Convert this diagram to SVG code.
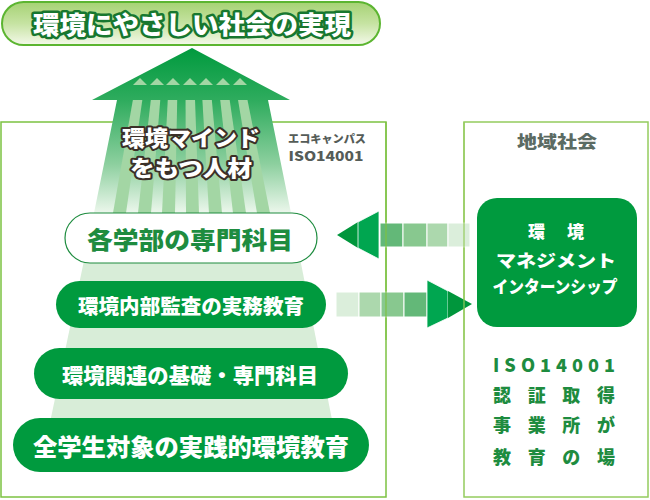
<svg xmlns="http://www.w3.org/2000/svg" width="650" height="500" viewBox="0 0 650 500">
<defs>
<style>
text{font-family:"Noto Sans CJK JP","Noto Sans",sans-serif;font-weight:900;}
.c{text-anchor:middle;dominant-baseline:central;}
.w{fill:#ffffff;}
.g{fill:#1e8c3f;}
.pill{fill:#009a3e;}
.sq{stroke:#ffffff;stroke-width:1;}
</style>
<linearGradient id="banner" x1="0" y1="0" x2="0" y2="1">
<stop offset="0" stop-color="#a6d274"/>
<stop offset="0.5" stop-color="#c6e3a2"/>
<stop offset="1" stop-color="#f4f9ea"/>
</linearGradient>
<linearGradient id="arrow" gradientUnits="userSpaceOnUse" x1="0" y1="48" x2="0" y2="213">
<stop offset="0" stop-color="#009a3e"/>
<stop offset="0.32" stop-color="#2fac5e"/>
<stop offset="0.7" stop-color="#8ccf9e"/>
<stop offset="1" stop-color="#ecf7ec"/>
</linearGradient>
<clipPath id="shaft">
<polygon points="117,100 268,100 291,213 94,213"/>
</clipPath>
</defs>

<g id="frames">
<rect x="1" y="122" width="385" height="375" fill="#ffffff" stroke="#7cc242" stroke-width="1.5"/>
<rect x="464" y="122" width="184" height="375" fill="#ffffff" stroke="#94cc5e" stroke-width="1.5"/>
</g>

<g id="title">
<rect x="2" y="2" width="378" height="43" rx="21.5" fill="url(#banner)" stroke="#5cb531" stroke-width="2"/>
<text class="c" x="192" y="23" font-size="25" textLength="318" lengthAdjust="spacingAndGlyphs" fill="#ffffff" stroke="#17772f" stroke-width="5" stroke-linejoin="round" paint-order="stroke">環境にやさしい社会の実現</text>
</g>

<g id="big-arrow">
<polygon points="192,48 290,100 268,100 291,213 94,213 117,100 92,100" fill="url(#arrow)"/>
<polygon points="94,213 291,213 342,470 40,470" fill="#d8edd8"/>
<g clip-path="url(#shaft)" fill="#a3d6a4">
<polygon points="135.5,85 144.5,85 126,213 113,213"/>
<polygon points="152.5,85 161.5,85 151,213 138,213"/>
<polygon points="168.5,85 177.5,85 175,213 162,213"/>
<polygon points="185.5,85 194.5,85 199,213 186,213"/>
<polygon points="201.5,85 210.5,85 222,213 209,213"/>
<polygon points="218.5,85 227.5,85 246,213 233,213"/>
<polygon points="235.5,85 244.5,85 270,213 257,213"/>
</g>
<g fill="#a3d6a4">
<polygon points="140,78 147,85 133,85"/>
<polygon points="157,78 164,85 150,85"/>
<polygon points="173,78 180,85 166,85"/>
<polygon points="190,78 197,85 183,85"/>
<polygon points="206,78 213,85 199,85"/>
<polygon points="223,78 230,85 216,85"/>
<polygon points="240,78 247,85 233,85"/>
</g>
<text class="c" x="191" y="136" font-size="22" textLength="138" lengthAdjust="spacingAndGlyphs" fill="#ffffff" stroke="#3b3028" stroke-width="4" stroke-linejoin="round" paint-order="stroke">環境マインド</text>
<text class="c" x="191" y="166" font-size="22" textLength="122" lengthAdjust="spacingAndGlyphs" fill="#ffffff" stroke="#3b3028" stroke-width="4" stroke-linejoin="round" paint-order="stroke">をもつ人材</text>
</g>

<g id="labels">
<text class="c" x="327" y="138" font-size="11" textLength="78" lengthAdjust="spacingAndGlyphs" fill="#555c58">エコキャンパス</text>
<text class="c" x="326" y="155" font-size="13" textLength="75" lengthAdjust="spacingAndGlyphs" fill="#555c58">ISO14001</text>
<text class="c" x="557" y="140" font-size="17" textLength="80" lengthAdjust="spacingAndGlyphs" fill="#5b6b63">地域社会</text>
</g>

<g id="item1">
<rect x="65" y="213" width="252" height="50" rx="25" fill="#ffffff" stroke="#1e8c3f" stroke-width="1.2"/>
<text class="c g" x="190" y="238" font-size="24" textLength="206" lengthAdjust="spacingAndGlyphs">各学部の専門科目</text>
</g>
<g id="item2">
<rect class="pill" x="56" y="281" width="270" height="47" rx="23.5"/>
<text class="c w" x="191" y="305" font-size="20" textLength="226" lengthAdjust="spacingAndGlyphs">環境内部監査の実務教育</text>
</g>
<g id="item3">
<rect class="pill" x="34" y="348" width="314" height="51" rx="25.5"/>
<text class="c w" x="190" y="374" font-size="21" textLength="256" lengthAdjust="spacingAndGlyphs">環境関連の基礎・専門科目</text>
</g>
<g id="item4">
<rect class="pill" x="13" y="418" width="356" height="54" rx="27"/>
<text class="c w" x="191" y="445" font-size="24" textLength="316" lengthAdjust="spacingAndGlyphs">全学生対象の実践的環境教育</text>
</g>

<g id="connectors">
<g id="arrow-left">
<rect class="sq" x="380" y="223" width="23" height="24" fill="#63b878"/>
<rect class="sq" x="403" y="223" width="24" height="24" fill="#88c88f"/>
<rect class="sq" x="427" y="223" width="21" height="24" fill="#acd8ad"/>
<rect x="448" y="223" width="22" height="24" fill="#dbeedb" stroke="#ffffff" stroke-width="1"/>
<polygon points="337,235 358,222 358,248" fill="#00963c"/>
<polygon points="358,222 379,211 379,259 358,248" fill="#00a650" stroke="#ffffff" stroke-width="0.8"/>
</g>
<g id="arrow-right">
<rect x="336" y="292" width="23" height="25" fill="#dbeedb" stroke="#ffffff" stroke-width="1"/>
<rect class="sq" x="359" y="292" width="22" height="25" fill="#acd8ad"/>
<rect class="sq" x="381" y="292" width="23" height="25" fill="#88c88f"/>
<rect class="sq" x="404" y="292" width="23" height="25" fill="#63b878"/>
<polygon points="427,280 448,291 448,318 427,328" fill="#00a650" stroke="#ffffff" stroke-width="0.8"/>
<polygon points="448,291 472,304 448,318" fill="#00963c"/>
</g>
<line x1="386" y1="122" x2="386" y2="340" stroke="#7cc242" stroke-width="1.2"/>
<line x1="464" y1="122" x2="464" y2="340" stroke="#94cc5e" stroke-width="1.2"/>
</g>

<g id="internship">
<rect x="477" y="198" width="160" height="129" rx="20" fill="#009a3e"/>
<text class="c w" x="556" y="230" font-size="17" textLength="56" lengthAdjust="spacing">環境</text>
<text class="c w" x="556" y="259" font-size="17" textLength="120" lengthAdjust="spacingAndGlyphs">マネジメント</text>
<text class="c w" x="555" y="285" font-size="17" textLength="125" lengthAdjust="spacingAndGlyphs">インターンシップ</text>
</g>

<g id="iso-text">
<text class="c g" x="554" y="364" font-size="18" textLength="122" lengthAdjust="spacing">ISO14001</text>
<text class="c g" x="554" y="394" font-size="18" textLength="122" lengthAdjust="spacing">認証取得</text>
<text class="c g" x="554" y="424" font-size="18" textLength="122" lengthAdjust="spacing">事業所が</text>
<text class="c g" x="554" y="456" font-size="18" textLength="122" lengthAdjust="spacing">教育の場</text>
</g>
</svg>
